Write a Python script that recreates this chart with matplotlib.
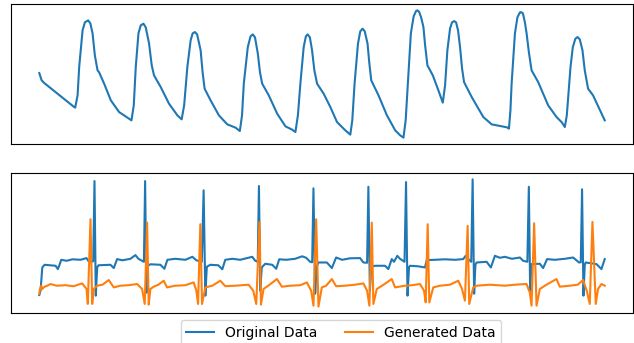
import numpy as np
import matplotlib
matplotlib.use("Agg")
import matplotlib.pyplot as plt

# top panel: pulse waveform (time index, signal level)
ppg_t = [38.3, 40.7, 43.3, 73.3, 74.3, 76.7, 78.3, 81.7, 84, 87.3, 89.5, 91.7, 94, 96.7, 98.3,
         103.3, 110, 118.3, 128.3, 130.7, 133, 135, 137.7, 140, 142.7, 145, 148.3, 151, 153.3,
         160, 168.3, 176.7, 181, 183.5, 186.7, 190, 192, 194.3, 196.5, 200, 202, 204, 210,
         218.3, 226.7, 235, 239.3, 241.5, 243.3, 247.3, 250, 252.3, 254.5, 257.3, 259.5, 261.7,
         268.3, 276.7, 285, 291.7, 295, 297.5, 300, 303.3, 305.5, 307.3, 309.5, 311.7, 314,
         316.7, 323.3, 330, 336.7, 345, 350, 352, 354.3, 357.7, 360, 362.3, 364.5, 367.3, 369,
         371, 378.3, 386.7, 395, 400, 403.3, 405.5, 407.7, 410.7, 413.5, 416, 417.3, 419, 421,
         423.3, 425, 427.3, 432.7, 438.3, 442.7, 445, 447.3, 450, 452, 454, 456, 458, 460, 462,
         464, 471.7, 483.3, 491.7, 501.7, 507, 509, 510.5, 511.7, 515, 517.5, 520, 521, 523,
         525, 526.7, 529, 531.7, 538.3, 548.3, 556.7, 562, 565, 567, 568.5, 570.7, 573, 575.5,
         577.7, 580, 582.7, 585, 588.3, 593.3, 605]
ppg_depth = [72.7, 80, 82.7, 106.7, 107.3, 95, 66.7, 30, 22, 20, 23, 33, 55, 70, 72,
             83.3, 100, 111.7, 118.3, 120, 105, 66.7, 33, 25, 23.3, 27, 43, 65, 75,
             86.7, 103.3, 115, 119, 105, 66.7, 40, 33, 31.7, 34, 50, 72, 88.3, 100,
             115, 124, 127.3, 130.7, 115, 83, 46.7, 36, 34, 37, 53, 72, 83.3,
             95, 113.3, 126, 129.3, 131.7, 115, 83, 46.7, 36, 34, 37, 50, 70,
             83.3, 93.3, 106.7, 121.7, 130, 134.3, 120, 83.3, 43.3, 31, 28.3, 31, 43.3, 62,
             80, 95, 115, 130, 135, 137.3, 120, 83, 33, 16, 10.5, 10, 11.5, 17,
             26.7, 45, 65, 75, 90, 102.3, 85, 50, 28, 22, 20.7, 22, 30, 46.7, 68,
             81.7, 96.7, 116.7, 124, 126, 127, 128.3, 110, 83, 33, 17, 12, 11.7, 13,
             22, 33, 52, 70, 81.7, 105, 116.7, 122, 126.7, 115, 95, 66.7, 47, 38.5,
             36.7, 39, 50, 70, 88.3, 95, 120]

# bottom panel: original ECG
orig_t = [38.7, 40, 41.7, 44, 55, 57.3, 59, 60.7, 66, 72, 80, 86, 88.3, 92.7, 94, 95.3, 96.7,
          98, 110, 113.3, 116.7, 122, 130, 135, 138, 141.7, 143.5, 144.7, 146, 147.5, 150, 160,
          164, 167, 175, 185, 192, 196, 201.5, 203.3, 205, 206.5, 210, 218, 222, 225, 232, 240,
          248, 252, 255, 257.5, 258.7, 260, 261.5, 265, 272, 276, 279, 286, 295, 302, 306, 310,
          312, 313.3, 315, 316.5, 318.3, 326.7, 331.7, 336, 342, 350, 360, 363.3, 367, 368.3,
          369.8, 371.2, 375, 385, 388.3, 391.7, 394, 397.3, 400, 404.5, 406, 407.5, 409, 410,
          418, 425, 426.7, 435, 445, 455, 463.3, 465.7, 468, 471.3, 472.7, 474.2, 475.5, 476.7,
          486.7, 491, 495, 500, 505, 512, 520, 523.3, 527.5, 529, 530.3, 531.7, 540, 543.3,
          547.3, 555, 565, 573.3, 576, 579.3, 581, 582.3, 583.7, 585, 586, 596.7, 601.7, 605]
orig_depth = [294.3, 290, 266.7, 264, 265, 268.3, 264, 259, 260, 258.5, 259, 257.3, 260.7, 260.5, 180, 295, 266.7,
              264.5, 264, 267.3, 258.3, 259.5, 258, 254.3, 258, 260, 261, 180, 292, 265, 263.5, 264,
              268, 259, 258, 259, 256, 259.5, 261, 189.3, 295, 266, 264, 264.5, 268.5, 259, 258, 259,
              257, 256, 260, 261, 185, 290, 266.7, 263, 264, 268, 258.5, 259, 258, 255.5, 257, 261,
              261.5, 187.3, 293, 266, 261.7, 261.7, 267.3, 256.7, 259, 257.5, 257.3, 261.7, 262, 185.7,
              290, 266, 265, 265, 268.3, 258.3, 261, 255, 258, 261, 181, 295, 266.5, 265,
              265.5, 266.7, 259.3, 259, 258.5, 259, 258.3, 255, 258, 261, 178.3, 293, 264, 261.7,
              261, 266.7, 255, 257, 256, 258, 256.7, 260, 261, 185.7, 290, 263.3, 263, 267.3,
              258.3, 259, 258, 256.7, 259, 261.7, 261.5, 188.3, 295, 264, 261.7, 263.3, 268.3, 258.3]

# bottom panel: generated ECG
gen_t = [38.7, 39.5, 40.7, 41.7, 44, 46.7, 50, 56, 65, 73, 81.7, 86, 87.3, 90, 91.7, 93.3, 96.7,
         102, 108.3, 113.3, 120, 128, 136.7, 141.7, 144.3, 146.7, 148.3, 150, 153.3, 158, 163.3,
         166.7, 175, 185, 193.3, 196, 197.7, 200, 201.7, 205, 212, 220, 225, 235, 248.3, 253,
         256, 259.3, 260.7, 263.3, 268, 276.7, 281.7, 290, 300, 306.7, 311, 313.3, 316, 318.3,
         321.7, 326, 331.7, 336, 345, 355, 363.3, 367, 369.3, 371.7, 373.3, 376.7, 382, 391.7,
         395, 405, 412, 420, 424, 425.7, 427.7, 429.3, 433.3, 440, 450, 458.3, 462, 465, 467.7,
         469.3, 473.3, 476.7, 490, 505, 515, 526.7, 530, 531.7, 534.3, 536.7, 540, 545, 556.7,
         560, 570, 578, 583.3, 587, 590, 592.7, 596, 598.3, 601.7, 605]
gen_depth = [293.3, 288, 285, 288.3, 286, 285, 283.3, 285, 284.5, 285.5, 282.7, 288.3, 303.3, 218.3, 303.3, 288.3, 285,
             284, 279.3, 286.7, 285, 284.5, 283.3, 288.3, 303.3, 221.7, 304, 288.3, 286, 284, 280,
             286.7, 285, 284.5, 281.7, 290, 303.3, 223.3, 303.3, 286.7, 285, 280, 285.5, 285, 284, 290,
             303.3, 221, 304, 288.3, 285, 278.3, 286, 285, 284.5, 281.7, 290, 305, 218.3, 306,
             286.7, 285, 278.3, 285.5, 285, 284, 282.7, 290, 305, 221.7, 303.3, 288.3, 285, 278.3,
             286.7, 285, 284.5, 283.3, 290, 301.7, 223.3, 301.7, 286.7, 285, 284, 280, 288, 300, 225,
             303.3, 286.7, 285, 284, 285, 284, 283.3, 292, 305, 222.3, 305, 288.3, 285, 278.3,
             286, 285, 284, 279.3, 290, 303.3, 221, 303.3, 288.3, 283.3, 285]

W, H = 634, 343
fig = plt.figure(figsize=(W / 100, H / 100), dpi=100)
ax1 = fig.add_axes([11 / W, 1 - 144 / H, 622 / W, 140 / H])
ax2 = fig.add_axes([11 / W, 1 - 313 / H, 622 / W, 140 / H])

ax1.plot(ppg_t, -np.array(ppg_depth), color='tab:blue', lw=1.5)

l1, = ax2.plot(orig_t, -np.array(orig_depth), color='tab:blue', lw=1.5, label='Original Data')
l2, = ax2.plot(gen_t, -np.array(gen_depth), color='tab:orange', lw=1.5, label='Generated Data')

for ax in (ax1, ax2):
    ax.set_xticks([])
    ax.set_yticks([])

fig.legend(handles=[l1, l2], loc='upper center', ncol=2, borderaxespad=0,
           bbox_to_anchor=(341 / W, 1 - 320 / H), fontsize=10)

fig.savefig('out.png', dpi=100)
